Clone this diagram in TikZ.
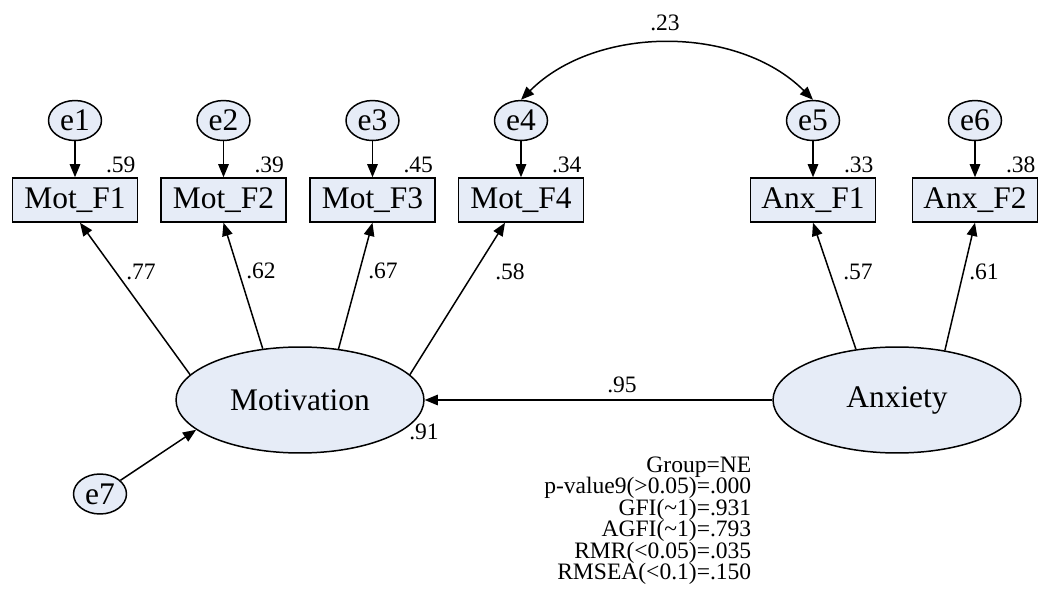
\documentclass[tikz,border=0pt]{standalone}
\usepackage{fontspec}
\setmainfont{Liberation Serif}
\usetikzlibrary{shapes.geometric,positioning,calc,arrows.meta}

\definecolor{semfill}{RGB}{230,236,247}

\begin{document}
\begin{tikzpicture}[x=0.02cm, y=0.02cm, line width=0.85pt,
    bigfont/.style={font=\fontsize{17.9}{20}\selectfont},
    smallfont/.style={font=\fontsize{13.4}{12.2}\selectfont},
    obs/.style={draw, fill=semfill, bigfont, minimum width=2.5cm, minimum height=0.88cm, inner sep=0},
    err/.style={draw, ellipse, fill=semfill, bigfont, minimum width=1.06cm, minimum height=0.8cm, inner sep=0},
    lat/.style={draw, ellipse, fill=semfill, bigfont, minimum width=4.96cm, minimum height=2.12cm, inner sep=0},
    val/.style={smallfont, inner sep=0},
    path/.style={-{Triangle[length=7.5pt, width=6pt]}}]
    \useasboundingbox (0,0) rectangle (1042,606);

    % observed variables
    \node [obs] (mf1) at (75,406) {Mot\_F1};
    \node [obs] (mf2) at (223.5,406) {Mot\_F2};
    \node [obs] (mf3) at (372.5,406) {Mot\_F3};
    \node [obs] (mf4) at (521,406) {Mot\_F4};
    \node [obs] (af1) at (813,406) {Anx\_F1};
    \node [obs] (af2) at (975,406) {Anx\_F2};

    % error terms
    \node [err, above=0.72cm of mf1] (e1) {e1};
    \node [err, above=0.72cm of mf2] (e2) {e2};
    \node [err, above=0.72cm of mf3] (e3) {e3};
    \node [err, above=0.72cm of mf4] (e4) {e4};
    \node [err, above=0.72cm of af1] (e5) {e5};
    \node [err, above=0.72cm of af2] (e6) {e6};
    \node [err] (e7) at (100,112) {e7};

    % latent variables
    \node [lat] (mot) at (300,206) {Motivation};
    \node [lat] (anx) at (897,206) {Anxiety};

    \draw [path] (e1) -- (mf1);
    \draw [path] (e2) -- (mf2);
    \draw [path] (e3) -- (mf3);
    \draw [path] (e4) -- (mf4);
    \draw [path] (e5) -- (af1);
    \draw [path] (e6) -- (af2);

    \draw [path] (mot.167) -- ([xshift=0.1cm]mf1.south);
    \draw [path] (mot.126) -- (mf2.south);
    \draw [path] (mot.53) -- (mf3.south);
    \draw [path] (mot.13) -- ([xshift=-0.32cm]mf4.south);
    \draw [path] (anx.129) -- (af1.south);
    \draw [path] (anx.46) -- (af2.south);
    \draw [path] (anx.west) -- (mot.east);
    \draw [path] (e7) -- (mot.196);
    \draw [{Triangle[length=7.5pt, width=6pt]}-{Triangle[length=7.5pt, width=6pt]}]
        (e4.north) .. controls ($(e4.north)+(75,75)$) and ($(e5.north)+(-75,75)$) .. (e5.north);

    % estimates
    \node [val, anchor=south east] (r1) at ($(mf1.north east)+(-2,4)$) {.59};
    \node [val, anchor=south east] (r2) at ($(mf2.north east)+(-2,4)$) {.39};
    \node [val, anchor=south east] (r3) at ($(mf3.north east)+(-2,4)$) {.45};
    \node [val, anchor=south east] (r4) at ($(mf4.north east)+(-2,4)$) {.34};
    \node [val, anchor=south east] (r5) at ($(af1.north east)+(-2,4)$) {.33};
    \node [val, anchor=south east] (r6) at ($(af2.north east)+(-2,4)$) {.38};
    \node [val] (l1) at (141,334) {.77};
    \node [val] (l2) at (261,335) {.62};
    \node [val] (l3) at (383,335) {.67};
    \node [val] (l4) at (510,334) {.58};
    \node [val] (l5) at (858,334) {.57};
    \node [val] (l6) at (984,334) {.61};
    \node [val] (beta) at (622,221) {.95};
    \node [val] (rmot) at (424,174) {.91};
    \node [val] (cov) at (665,583) {.23};

    % fit indices
    \node [val, align=right, anchor=north east] (fit) at (752,150)
        {Group=NE\\ p-value9(>0.05)=.000\\ GFI(\textasciitilde 1)=.931\\ AGFI(\textasciitilde 1)=.793\\ RMR(<0.05)=.035\\ RMSEA(<0.1)=.150};
\end{tikzpicture}
\end{document}
